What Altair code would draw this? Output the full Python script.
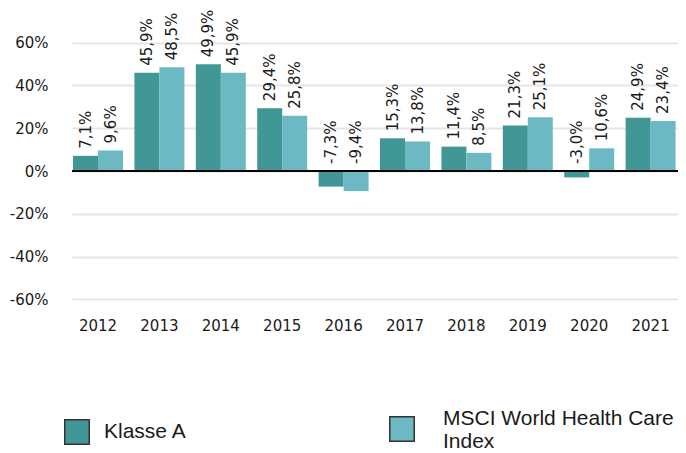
import altair as alt
import pandas as pd

years = ["2012", "2013", "2014", "2015", "2016", "2017", "2018", "2019", "2020", "2021"]
series_names = ["Klasse A", "MSCI World Health Care Index"]
klasse_a = [7.1, 45.9, 49.9, 29.4, -7.3, 15.3, 11.4, 21.3, -3.0, 24.9]
msci = [9.6, 48.5, 45.9, 25.8, -9.4, 13.8, 8.5, 25.1, 10.6, 23.4]
colors = ["#419696", "#6cb9c3"]
y_ticks = [-60, -40, -20, 0, 20, 40, 60]

rows = []
for i, y in enumerate(years):
    rows.append({"year": y, "series": series_names[0], "value": klasse_a[i]})
    rows.append({"year": y, "series": series_names[1], "value": msci[i]})
df = pd.DataFrame(rows)

FONT = "DejaVu Sans"
LEGEND_FONT = "Liberation Sans"

base = alt.Chart(df)

x_enc = alt.X(
    "year:O",
    sort=years,
    scale=alt.Scale(paddingInner=0.186, paddingOuter=0.028, align=0.3),
    axis=alt.Axis(
        title=None, labelAngle=0, domain=False, ticks=False, labelPadding=8,
        labelFont=FONT, labelFontSize=15, labelColor="#1a1a1a",
    ),
)
x_off = alt.XOffset("series:N", sort=series_names, scale=alt.Scale(paddingInner=0, paddingOuter=0))
y_scale = alt.Scale(domain=[-65, 65], nice=False, zero=False)

legend_common = dict(
    title=None, orient="none", direction="horizontal",
    symbolType="square", symbolSize=600, symbolStrokeColor="#333333",
    symbolStrokeWidth=1.5, symbolOpacity=1, labelFont=LEGEND_FONT, labelFontSize=21,
    labelColor="#1a1a1a", labelLimit=400,
)

bars = base.mark_bar().encode(
    x=x_enc,
    xOffset=x_off,
    y=alt.Y(
        "value:Q",
        scale=y_scale,
        axis=alt.Axis(
            title=None, values=y_ticks, labelExpr="datum.value + '%'",
            domain=False, ticks=False, labelPadding=24, grid=True,
            gridColor="#e6e6e6", gridWidth=2, labelFont=FONT, labelFontSize=15,
            labelColor="#1a1a1a",
        ),
    ),
    color=alt.Color(
        "series:N",
        sort=series_names,
        scale=alt.Scale(domain=series_names, range=colors),
        legend=alt.Legend(values=[series_names[0]], legendX=-8, legendY=387,
                          labelOffset=14, **legend_common),
    ),
)

# invisible helper marks that carry the second legend entry (wrapped label)
legend_helper = base.transform_calculate(series_b="datum.series").mark_square(size=0, opacity=1).encode(
    x=alt.X("year:O", sort=years),
    xOffset=alt.XOffset("series:N", sort=series_names),
    y=alt.Y("value:Q", scale=y_scale),
    fill=alt.Fill(
        "series_b:N",
        sort=series_names,
        scale=alt.Scale(range=colors),
        legend=alt.Legend(
            values=[series_names[1]], legendX=317, legendY=384,
            labelBaseline="bottom", labelOffset=28,
            labelExpr="datum.label == 'MSCI World Health Care Index' ? ['MSCI World Health Care', 'Index'] : datum.label",
            **legend_common,
        ),
    ),
)

labels = base.transform_calculate(
    label="(datum.value < 0 ? '-' : '') + replace(format(abs(datum.value), '.1f'), '.', ',') + '%'",
    ypos="max(datum.value, 0)",
).mark_text(
    angle=270, align="left", baseline="middle", dx=7,
    font=FONT, fontSize=15, color="#1a1a1a",
).encode(
    x=alt.X("year:O", sort=years),
    xOffset=alt.XOffset("series:N", sort=series_names),
    y=alt.Y("ypos:Q", scale=y_scale),
    text="label:N",
)

zero = base.mark_rule(color="#000000", strokeWidth=1.5).encode(y=alt.datum(0))

chart = alt.layer(bars, legend_helper, zero, labels).properties(
    width=606,
    height=278,
    autosize=alt.AutoSizeParams(type="none"),
    padding={"left": 64, "right": 0, "top": 24, "bottom": 143},
).configure_view(stroke=None)

chart.save("out.html", embed_options={"renderer": "svg", "actions": False})
